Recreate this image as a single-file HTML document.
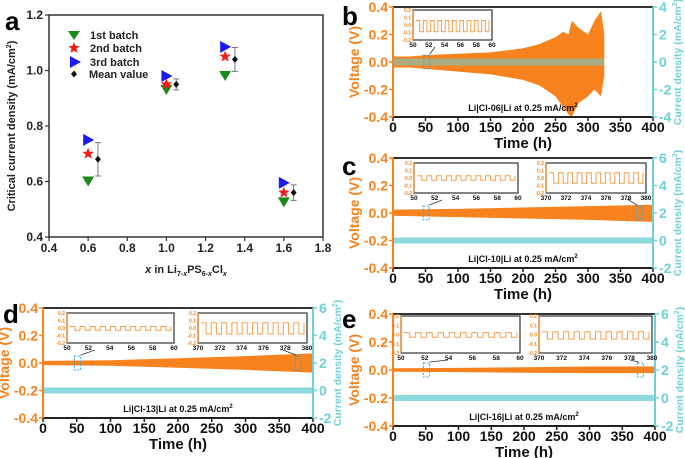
<!DOCTYPE html>
<html><head><meta charset="utf-8"><style>
html,body{margin:0;padding:0;background:#fff;}
svg{display:block;font-family:"Liberation Sans",sans-serif;font-weight:bold;}
</style></head><body>
<svg id="fig" width="685" height="458" viewBox="0 0 685 458" xmlns="http://www.w3.org/2000/svg"></svg>
<script>
// ---- Panel a data ----
const aCategories = [0.6, 1.0, 1.3, 1.6];
const aBatch1 = [0.60, 0.93, 0.98, 0.525];
const aBatch2 = [0.70, 0.95, 1.05, 0.56];
const aBatch3 = [0.75, 0.98, 1.085, 0.595];
const aMean = [0.68, 0.95, 1.04, 0.56];
const aErr = [0.06, 0.02, 0.043, 0.028];
const aXTicks = ["0.4","0.6","0.8","1.0","1.2","1.4","1.6","1.8"];
const aYTicks = ["0.4","0.6","0.8","1.0","1.2"];
// ---- Cycling panels data (envelope of voltage trace) ----
const bTimes = [0, 25, 50, 100, 150, 200, 225, 250, 262, 270, 275, 285, 300, 310, 320, 325];
const bUpper = [0.04, 0.04, 0.05, 0.06, 0.07, 0.10, 0.13, 0.18, 0.22, 0.20, 0.30, 0.25, 0.20, 0.30, 0.37, 0.20];
const bLower = [-0.04, -0.04, -0.05, -0.07, -0.09, -0.13, -0.17, -0.25, -0.33, -0.38, -0.40, -0.30, -0.25, -0.20, -0.25, -0.10];
const cTimes = [0, 100, 200, 300, 400];
const cUpper = [0.025, 0.03, 0.04, 0.05, 0.06];
const cLower = [-0.02, -0.03, -0.04, -0.05, -0.065];
const dTimes = [0, 100, 200, 300, 400];
const dUpper = [0.015, 0.02, 0.035, 0.05, 0.07];
const dLower = [-0.015, -0.02, -0.035, -0.05, -0.07];
const eTimes = [0, 100, 200, 300, 400];
const eUpper = [0.012, 0.015, 0.02, 0.025, 0.025];
const eLower = [-0.012, -0.015, -0.02, -0.022, -0.022];
const timeTicks = ["0","50","100","150","200","250","300","350","400"];
const voltTicks = ["-0.4","-0.2","0.0","0.2","0.4"];
const bCurTicks = ["-4","-2","0","2","4"];
const cdeCurTicks = ["-2","0","2","4","6"];
const insetYTicks = ["-0.2","-0.1","0.0","0.1","0.2"];
const insetEarlyTicks = ["50","52","54","56","58","60"];
const insetLateTicks = ["370","372","374","376","378","380"];
// inset square-wave levels [high, low] (V)
const bInset1 = [0.06, -0.09];
const cInset1 = [0.03, -0.03];
const cInset2 = [0.07, -0.07];
const dInset1 = [0.02, -0.03];
const dInset2 = [0.07, -0.08];
const eInset1 = [0.02, -0.03];
const eInset2 = [0.03, -0.05];

const NS="http://www.w3.org/2000/svg";
const svg=document.getElementById('fig');
function mk(tag,attrs,parent){const e=document.createElementNS(NS,tag);for(const k in attrs)e.setAttribute(k,attrs[k]);(parent||svg).appendChild(e);return e;}
function txt(s,attrs,parent){const e=mk('text',attrs,parent);e.textContent=s;return e;}
const OR="#f7821e", CY="#6fd0d6";

// ===== Panel a =====
(function(){
 const g=mk('g',{});
 
 
 const L=49,R=323,T=15,B=237;
 const X=v=>L+(v-0.4)/(1.4)*(R-L), Y=v=>B-(v-0.4)/0.8*(B-T);
 mk('rect',{x:L,y:T,width:R-L,height:B-T,fill:'none',stroke:'#333','stroke-width':1.5},g);
 aXTicks.forEach(t=>{const x=X(+t);mk('line',{x1:x,x2:x,y1:B,y2:B+4,stroke:'#333','stroke-width':1.2},g);
  const e=txt(t,{x:x,y:B+15,'font-size':12,'text-anchor':'middle',fill:'#222'},g);
  });
 aYTicks.forEach(t=>{const y=Y(+t);mk('line',{x1:L-4,x2:L,y1:y,y2:y,stroke:'#333','stroke-width':1.2},g);
  const e=txt(t,{x:L-6,y:y+4,'font-size':12,'text-anchor':'end',fill:'#222'},g);
  });
 const xt=mk('text',{x:(L+R)/2,y:273,'font-size':11,'text-anchor':'middle',fill:'#222'},g);
 
 xt.innerHTML='<tspan font-style="italic">x</tspan> in Li<tspan font-size="7" dy="3">7-<tspan font-style="italic">x</tspan></tspan><tspan dy="-3">PS</tspan><tspan font-size="7" dy="3">6-<tspan font-style="italic">x</tspan></tspan><tspan dy="-3">Cl</tspan><tspan font-size="7" dy="3" font-style="italic">x</tspan>';
 const yt=mk('text',{x:0,y:0,'font-size':11,'text-anchor':'middle',fill:'#222',transform:`translate(15,${(T+B)/2}) rotate(-90)`},g);
 
 yt.innerHTML='Critical current density (mA/cm<tspan font-size="7" dy="-4">2</tspan><tspan dy="4">)</tspan>';
 const pl=txt('a',{x:5,y:30,'font-size':26,fill:'#000'},g);
 
 const down=(x,y,c)=>mk('path',{d:`M${x-6},${y-5}L${x+6},${y-5}L${x},${y+5}Z`,fill:c},g);
 const right=(x,y,c)=>mk('path',{d:`M${x-5},${y-6}L${x+6},${y}L${x-5},${y+6}Z`,fill:c},g);
 const star=(x,y,c)=>{let p='';for(let i=0;i<10;i++){const r=i%2?2.6:6,a=-Math.PI/2+i*Math.PI/5;p+=(i?'L':'M')+(x+r*Math.cos(a)).toFixed(1)+','+(y+r*Math.sin(a)).toFixed(1);}return mk('path',{d:p+'Z',fill:c},g);};
 const dia=(x,y)=>mk('path',{d:`M${x},${y-3.5}L${x+3},${y}L${x},${y+3.5}L${x-3},${y}Z`,fill:'#111'},g);
 aCategories.forEach((c,i)=>{
  let e=down(X(c),Y(aBatch1[i]),'#1a8a1a');
  e=star(X(c),Y(aBatch2[i]),'#f21c1c');
  e=right(X(c),Y(aBatch3[i]),'#1a1af2');
  const mx=X(c+0.05);
  e=mk('path',{d:`M${mx},${Y(aMean[i]-aErr[i])}V${Y(aMean[i]+aErr[i])}M${mx-3},${Y(aMean[i]-aErr[i])}h6M${mx-3},${Y(aMean[i]+aErr[i])}h6`,stroke:'#777','stroke-width':1,fill:'none'},g);
  
  e=dia(mx,Y(aMean[i]));
 });
 const lg=mk('g',{},g);
 const names=['1st batch','2nd batch','3rd batch','Mean value'];
 [35,48,62,74].forEach((y,i)=>{
  if(i==0)mk('path',{d:`M${68},${y-4}L${80},${y-4}L${74},${y+5}Z`,fill:'#1a8a1a'},lg);
  if(i==1){let p='';for(let k=0;k<10;k++){const r=k%2?2.6:6,a=-Math.PI/2+k*Math.PI/5;p+=(k?'L':'M')+(74+r*Math.cos(a)).toFixed(1)+','+(y+r*Math.sin(a)).toFixed(1);}mk('path',{d:p+'Z',fill:'#f21c1c'},lg);}
  if(i==2)mk('path',{d:`M70,${y-6}L81,${y}L70,${y+6}Z`,fill:'#1a1af2'},lg);
  if(i==3)mk('path',{d:`M74,${y-3.5}L77,${y}L74,${y+3.5}L71,${y}Z`,fill:'#111'},lg);
  const e=txt(names[i],{x:i==3?89:90,y:y+4,'font-size':11,fill:'#222'},lg);
  
 });
})();

// ===== Cycling panels =====
function panel(c){
 const g=mk('g',{});
 
 
 const {L,R,T,B}=c;
 const X=t=>L+t/400*(R-L), Y=v=>B-(v+0.4)/0.8*(B-T), YC=v=>B-(v-c.cmin)/(c.cmax-c.cmin)*(B-T);
 let p='M'+X(c.times[0])+','+Y(c.upper[0]);
 c.times.forEach((t,i)=>p+='L'+X(t).toFixed(1)+','+Y(c.upper[i]).toFixed(1));
 for(let i=c.times.length-1;i>=0;i--)p+='L'+X(c.times[i]).toFixed(1)+','+Y(c.lower[i]).toFixed(1);
 let e=mk('path',{d:p+'Z',fill:OR},g);
 
 const bandEnd=c.bandEnd||400;
 e=mk('rect',{x:L,y:YC(0)-c.bandH/2,width:X(bandEnd)-L,height:c.bandH,fill:CY,opacity:c.bandOp},g);
 
 mk('line',{x1:L,x2:R,y1:T,y2:T,stroke:'#333','stroke-width':2},g);
 mk('line',{x1:L,x2:R,y1:B,y2:B,stroke:'#222','stroke-width':2},g);
 mk('line',{x1:L,x2:L,y1:T,y2:B,stroke:OR,'stroke-width':2},g);
 mk('line',{x1:R,x2:R,y1:T,y2:B,stroke:CY,'stroke-width':2},g);
 timeTicks.forEach(t=>{const x=X(+t);mk('line',{x1:x,x2:x,y1:B,y2:B+4,stroke:'#222','stroke-width':1.5},g);
  const e=txt(t,{x:x,y:B+15,'font-size':14,'text-anchor':'middle',fill:'#111'},g);
  });
 voltTicks.forEach(t=>{const y=Y(+t);mk('line',{x1:L-4,x2:L,y1:y,y2:y,stroke:OR,'stroke-width':1.5},g);
  const e=txt(t,{x:L-5,y:y+5,'font-size':14,'text-anchor':'end',fill:OR},g);
  });
 c.ctick.forEach(t=>{const y=YC(+t);mk('line',{x1:R,x2:R+4,y1:y,y2:y,stroke:CY,'stroke-width':1.5},g);
  const e=txt(t,{x:R+6,y:y+5,'font-size':14,fill:CY},g);
  });
 e=txt('Time (h)',{x:(L+R)/2,y:B+31,'font-size':15,'text-anchor':'middle',fill:'#111'},g);
 
 e=txt('Voltage (V)',{x:0,y:0,'font-size':14,'text-anchor':'middle',fill:OR,transform:`translate(${L-34},${(T+B)/2}) rotate(-90)`},g);
 
 e=mk('text',{x:0,y:0,'font-size':10.5,'text-anchor':'middle',fill:CY,transform:`translate(${R+28},${(T+B)/2}) rotate(-90)`},g);
 e.innerHTML='Current density (mA/cm<tspan font-size="7" dy="-4">2</tspan><tspan dy="4">)</tspan>';
 
 e=mk('text',{x:(L+R)/2,y:B-6,'font-size':9,'text-anchor':'middle',fill:'#111'},g);
 e.innerHTML=c.label+' at 0.25 mA/cm<tspan font-size="6" dy="-4">2</tspan>';
 
 e=txt(c.id,{x:c.px,y:c.py,'font-size':26,fill:'#000'},g);
 
 c.insets.forEach((ins,k)=>{
  const ig=mk('g',{},g);
  mk('rect',{x:ins.x,y:ins.y,width:ins.w,height:ins.h,fill:'#fff',stroke:'#333','stroke-width':1.2},ig);
  mk('line',{x1:ins.x,x2:ins.x,y1:ins.y,y2:ins.y+ins.h,stroke:OR,'stroke-width':1.2},ig);
  const iy=v=>ins.y+ins.h-(v+0.2)/0.4*ins.h;
  insetYTicks.forEach(t=>txt(t,{x:ins.x-2,y:iy(+t)+2,'font-size':5,'text-anchor':'end',fill:OR},ig));
  ins.ticks.forEach((t,j)=>txt(t,{x:ins.x+j*ins.w/5,y:ins.y+ins.h+7,'font-size':6.5,'text-anchor':'middle',fill:'#111'},ig));
  const hi=iy(ins.lv[0]),lo=iy(ins.lv[1]);const n=10,step=(ins.w-6)/n;
  let d='M'+(ins.x+3)+','+hi;
  for(let j=0;j<n;j++){const x0=ins.x+3+j*step;d+=`H${x0+step/2}V${lo}H${x0+step}V${hi}`;}
  const w=mk('path',{d:d,fill:'none',stroke:'#f5a050','stroke-width':1},ig);
  
  const bx=X(ins.t);
  const m=mk('rect',{x:bx-3,y:Y(0.05),width:6,height:Y(-0.05)-Y(0.05),fill:'none',stroke:'#3aa0e0','stroke-width':1,'stroke-dasharray':'2,1.5'},g);
  
  mk('line',{x1:bx+(k?-2:3),y1:Y(0.05)-1,x2:ins.ax,y2:ins.ay,stroke:'#333','stroke-width':0.8},g);
 });
}
panel({id:'b',L:393,R:653,T:7,B:117,cmin:-4,cmax:4,ctick:bCurTicks,times:bTimes,upper:bUpper,lower:bLower,bandH:7,bandOp:0.55,bandEnd:325,label:'Li|Cl-06|Li',px:342,py:25,
 insets:[{x:413,y:10,w:79,h:30,ticks:insetEarlyTicks,lv:bInset1,t:52,ax:435,ay:47}]});
panel({id:'c',L:393,R:653,T:158,B:268,cmin:-2,cmax:6,ctick:cdeCurTicks,times:cTimes,upper:cUpper,lower:cLower,bandH:6,bandOp:0.8,label:'Li|Cl-10|Li',px:342,py:175,
 insets:[{x:414,y:163,w:104,h:30,ticks:insetEarlyTicks,lv:cInset1,t:51,ax:442,ay:200},{x:546,y:163,w:100,h:30,ticks:insetLateTicks,lv:cInset2,t:379,ax:627,ay:199}]});
panel({id:'d',L:43,R:313,T:308,B:418,cmin:-2,cmax:6,ctick:cdeCurTicks,times:dTimes,upper:dUpper,lower:dLower,bandH:6,bandOp:0.8,label:'Li|Cl-13|Li',px:3,py:323,
 insets:[{x:67,y:313,w:107,h:30,ticks:insetEarlyTicks,lv:dInset1,t:51,ax:95,ay:350},{x:198,y:313,w:109,h:30,ticks:insetLateTicks,lv:dInset2,t:378,ax:283,ay:350}]});
panel({id:'e',L:393,R:655,T:314,B:426,cmin:-2,cmax:6,ctick:cdeCurTicks,times:eTimes,upper:eUpper,lower:eLower,bandH:6,bandOp:0.8,label:'Li|Cl-16|Li',px:342,py:328,
 insets:[{x:401,y:316,w:119,h:37,ticks:insetEarlyTicks,lv:eInset1,t:51,ax:448,ay:360},{x:539,y:316,w:113,h:37,ticks:insetLateTicks,lv:eInset2,t:378,ax:630,ay:360}]});
</script>
</body></html>
